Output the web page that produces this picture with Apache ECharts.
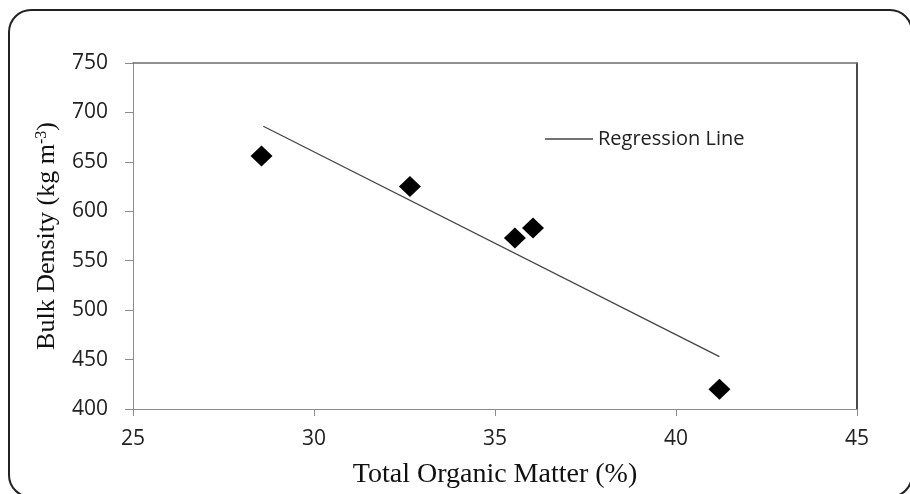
<!DOCTYPE html>
<html>
<head>
<meta charset="utf-8">
<script src="https://cdn.jsdelivr.net/npm/echarts@6/dist/echarts.min.js"></script>
<style>
  html, body { margin: 0; padding: 0; background: #fff; }
  #main { width: 910px; height: 494px; }
</style>
</head>
<body>
<div id="main"></div>
<script>
// measured points: total organic matter (%) vs bulk density (kg m-3)
var organicMatter = [28.55, 32.65, 35.55, 36.05, 41.2]
var bulkDensity = [656, 625, 573, 583, 420]
// regression line end points
var regX = [28.6, 41.2]
var regY = [686, 453]
var xTicks = [25, 30, 35, 40, 45]
var yTicks = [400, 450, 500, 550, 600, 650, 700, 750]

var myChart = echarts.init(document.getElementById('main'))

let points = []
for (let i = 0; i < organicMatter.length; i++) {
  points.push([organicMatter[i], bulkDensity[i]])
}
let regLine = []
for (let i = 0; i < regX.length; i++) {
  regLine.push([regX[i], regY[i]])
}

let tickFont = {
  fontFamily: 'Open Sans',
  fontSize: 21,
  color: '#222'
}

let option = {
  backgroundColor: '#fff',
  animation: false,
  graphic: [{
    type: 'rect',
    shape: { x: 9, y: 10, width: 903, height: 487, r: 22 },
    style: { fill: 'none', stroke: '#222', lineWidth: 2 },
    silent: true
  }],
  grid: {
    left: 133,
    top: 63,
    right: 53,
    bottom: 80
  },
  legend: {
    data: ['Regression Line'],
    icon: 'rect',
    left: 545,
    top: 129,
    padding: 0,
    itemWidth: 48,
    itemHeight: 1.3,
    itemGap: 0,
    textStyle: { fontFamily: 'Open Sans', fontSize: 20, color: '#222', padding: [0, 0, 0, 0] }
  },
  xAxis: [{
    type: 'value',
    min: xTicks[0],
    max: xTicks[xTicks.length - 1],
    interval: 5,
    name: 'Total Organic Matter (%)',
    nameLocation: 'middle',
    nameGap: 52,
    nameTextStyle: { fontFamily: 'Liberation Serif', fontSize: 28, color: '#111' },
    axisLine: { show: true, lineStyle: { color: '#8c8c8c', width: 1 } },
    axisTick: { show: true, length: 7, lineStyle: { color: '#8c8c8c' } },
    axisLabel: Object.assign({ margin: 20 }, tickFont),
    splitLine: { show: false }
  }, {
    type: 'value',
    position: 'top',
    min: xTicks[0],
    max: xTicks[xTicks.length - 1],
    axisLine: { show: true, lineStyle: { color: '#6e6e6e', width: 1.5 } },
    axisTick: { show: false },
    axisLabel: { show: false },
    splitLine: { show: false }
  }],
  yAxis: [{
    type: 'value',
    min: yTicks[0],
    max: yTicks[yTicks.length - 1],
    interval: 50,
    name: '{a|Bulk Density (kg m}{s|-3}{a|)}',
    nameLocation: 'middle',
    nameGap: 73,
    nameTextStyle: {
      rich: {
        a: { fontFamily: 'Liberation Serif', fontSize: 26, color: '#111' },
        s: { fontFamily: 'Liberation Serif', fontSize: 16, color: '#111', verticalAlign: 'top', padding: [0, 0, 10, 0] }
      }
    },
    axisLine: { show: true, lineStyle: { color: '#8c8c8c', width: 1 } },
    axisTick: { show: true, length: 8, lineStyle: { color: '#8c8c8c' } },
    axisLabel: Object.assign({ margin: 25 }, tickFont),
    splitLine: { show: false }
  }, {
    type: 'value',
    position: 'right',
    min: yTicks[0],
    max: yTicks[yTicks.length - 1],
    axisLine: { show: true, lineStyle: { color: '#111', width: 1.5 } },
    axisTick: { show: false },
    axisLabel: { show: false },
    splitLine: { show: false }
  }],
  series: [{
    name: 'Regression Line',
    type: 'line',
    data: regLine,
    symbol: 'none',
    lineStyle: { color: '#444', width: 1.3 },
    itemStyle: { color: '#444' },
    z: 2
  }, {
    name: 'Measured',
    type: 'scatter',
    data: points,
    symbol: 'diamond',
    symbolSize: [22, 21],
    itemStyle: { color: '#000', opacity: 1 },
    z: 3
  }]
}
myChart.setOption(option)
</script>
</body>
</html>
